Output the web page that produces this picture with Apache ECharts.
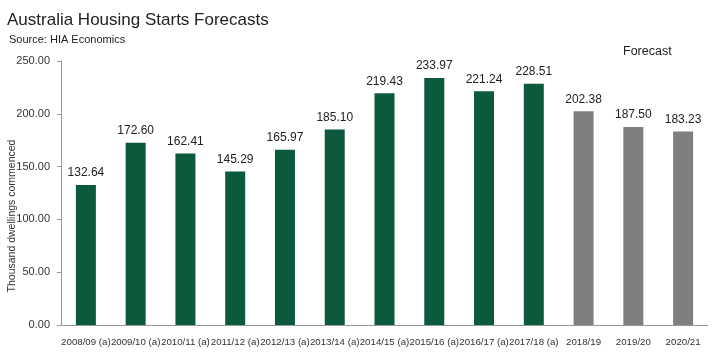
<!DOCTYPE html>
<html><head><meta charset="utf-8">
<script src="https://cdn.jsdelivr.net/npm/echarts@6/dist/echarts.min.js"></script>
<style>html,body{margin:0;padding:0;background:#fff}#c{width:720px;height:361px}</style>
</head><body><div id="c"></div>
<script>
const categories = ['2008/09 (a)','2009/10 (a)','2010/11 (a)','2011/12 (a)','2012/13 (a)','2013/14 (a)','2014/15 (a)','2015/16 (a)','2016/17 (a)','2017/18 (a)','2018/19','2019/20','2020/21'];
const values = [132.64,172.60,162.41,145.29,165.97,185.10,219.43,233.97,221.24,228.51,202.38,187.50,183.23];
const isForecast = [false,false,false,false,false,false,false,false,false,false,true,true,true];
const yTicks = [0,50,100,150,200,250];

const green = '#0b5a3b', grey = '#7f7f7f';
const font = '"Liberation Sans",Arial,sans-serif';
const chart = echarts.init(document.getElementById('c'));
chart.setOption({
  animation:false,
  title:[
    {text:'Australia Housing Starts Forecasts',left:2,top:7,textStyle:{fontFamily:font,fontSize:17,fontWeight:'normal',color:'#222'}},
    {text:'Source: HIA Economics',left:4,top:29,textStyle:{fontFamily:font,fontSize:11,fontWeight:'normal',color:'#222'}},
    {text:'Forecast',left:618,top:40,textStyle:{fontFamily:font,fontSize:12.5,fontWeight:'normal',color:'#222'}}
  ],
  grid:{left:61,right:12,top:61,bottom:36,containLabel:false,outerBoundsMode:'none'},
  xAxis:{type:'category',data:categories,
    axisLine:{lineStyle:{color:'#999'}},axisTick:{show:false},
    axisLabel:{interval:0,color:'#333',fontFamily:font,fontSize:9.7,margin:12}},
  yAxis:{type:'value',min:yTicks[0],max:yTicks[yTicks.length-1],interval:50,
    name:'Thousand dwellings commenced',nameLocation:'middle',nameGap:43,nameMoveOverlap:false,
    nameTextStyle:{fontFamily:font,fontSize:10.5,color:'#333',padding:[0,46,0,0]},
    axisLine:{show:true,lineStyle:{color:'#999'}},
    axisTick:{show:true,inside:false,length:4,lineStyle:{color:'#999'}},
    splitLine:{show:false},
    axisLabel:{color:'#333',fontFamily:font,fontSize:11,margin:11,formatter:v=>v.toFixed(2)}},
  series:[{type:'bar',barWidth:20,
    data:values.map((v,i)=>({value:v,itemStyle:{color:isForecast[i]?grey:green}})),
    label:{show:true,position:'top',distance:6,color:'#222',fontFamily:font,fontSize:12,formatter:p=>p.value.toFixed(2)}}]
});
</script></body></html>
